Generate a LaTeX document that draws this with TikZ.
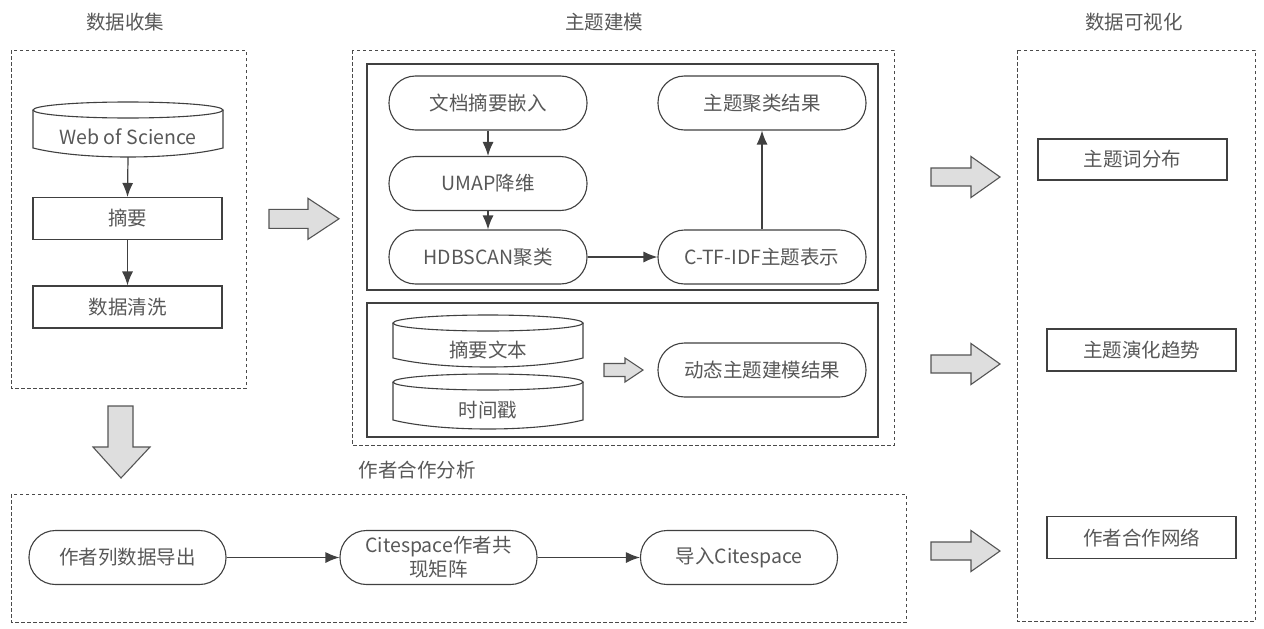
\documentclass[tikz,border=0pt]{standalone}
\usepackage{fontspec}
\setmainfont{Noto Sans CJK SC}
\usetikzlibrary{arrows.meta,calc}
\definecolor{ln}{HTML}{404040}
\definecolor{txt}{HTML}{585858}
\definecolor{dsh}{HTML}{4A4A4A}
\definecolor{blkd}{HTML}{555555}
\definecolor{blkf}{HTML}{DEDEDE}
\newcommand\dbcyl[5]{%
  \node[inner sep=0, minimum width={2*#5}, minimum height={#4-#3}] (#1) at (#2,{(#3+#4)/2}) {};
  \draw[ln, line width=1.1pt, fill=white] ({#2-#5},{#3+8}) -- ({#2-#5},{#4-9})
    .. controls ({#2-#5/2},{#4+3}) and ({#2+#5/2},{#4+3}) .. ({#2+#5},{#4-9}) -- ({#2+#5},{#3+8});
  \draw[ln, line width=1.1pt, fill=white] (#2,{#3+8}) ellipse [x radius=#5, y radius=8];
}
\newcommand\rblk[6]{% tail x, center y, shaft len, head len, shaft half, head half
  \draw[blk] (#1,{#2-#5}) -- ({#1+#3},{#2-#5}) -- ({#1+#3},{#2-#6}) -- ({#1+#3+#4},#2)
    -- ({#1+#3},{#2+#6}) -- ({#1+#3},{#2+#5}) -- (#1,{#2+#5}) -- cycle;
}
\begin{document}
\begin{tikzpicture}[x=1pt,y=-1pt,
  font=\fontsize{19.5pt}{24pt}\selectfont,
  lbl/.style={text=txt, inner sep=0},
  stad/.style={draw=ln, line width=1.1pt, rounded corners=26.5pt, minimum width=198pt,
    minimum height=54pt, text=txt, align=center, inner sep=2pt},
  rbox/.style={draw=ln, line width=1.1pt, minimum width=189pt, minimum height=42pt,
    text=txt, inner sep=0},
  dbox/.style={draw=dsh, line width=1pt, dash pattern=on 3.5pt off 2.5pt},
  sbox/.style={draw=ln, line width=1.4pt},
  conn/.style={draw=ln, line width=1.2pt, -{Latex[length=14pt,width=11pt]}},
  blk/.style={draw=blkd, fill=blkf, line width=1.1pt, line join=miter}]
\useasboundingbox (0,0) rectangle (1264,629);
\fill[white] (0,0) rectangle (1264,629);

% titles
\node[lbl] (t1) at (125,22) {数据收集};
\node[lbl] (t2) at (604,22) {主题建模};
\node[lbl] (t3) at (1134,22) {数据可视化};
\node[lbl] (t4) at (417,470) {作者合作分析};

% dashed frames
\draw[dbox] (11,50) rectangle (246,388);
\draw[dbox] (352,50) rectangle (894,445);
\draw[dbox] (11,494) rectangle (906,622);
\draw[dbox] (1017,50) rectangle (1255,621);

% solid inner frames
\draw[sbox] (367,64) rectangle (878,290);
\draw[sbox] (367,303) rectangle (878,437);

% data collection
\dbcyl{wos}{128}{102}{157}{95}
\node[lbl] (wost) at (128,137) {Web of Science};
\node[rbox] (zy) at (127.5,218.5) {摘要};
\node[rbox] (qx) at (127.5,307) {数据清洗};
\draw[conn] (wos.south) -- (zy.north);
\draw[conn] (zy) -- (qx);

% topic modeling
\node[stad] (emb) at (488,103) {文档摘要嵌入};
\node[stad] (umap) at (488,183.5) {UMAP降维};
\node[stad] (hdb) at (488,257) {HDBSCAN聚类};
\node[stad, minimum width=208pt] (res) at (762,103) {主题聚类结果};
\node[stad, minimum width=208pt] (ctf) at (762,257) {C-TF-IDF主题表示};
\draw[conn] (emb) -- (umap);
\draw[conn] (umap) -- (hdb);
\draw[conn] (hdb) -- (ctf);
\draw[conn] (ctf) -- (res);

\dbcyl{abs}{488}{315}{367}{95}
\node[lbl] (abst) at (488,350) {摘要文本};
\dbcyl{ts}{488}{374}{429}{95}
\node[lbl] (tst) at (488,410) {时间戳};
\node[stad, minimum width=208pt] (dyn) at (762,370) {动态主题建模结果};
\rblk{604}{370}{21}{18}{6.5}{12}

% author collaboration
\node[stad, minimum width=197pt] (a1) at (127.5,557.5) {作者列数据导出};
\node[stad, minimum width=197pt] (a2) at (438.5,557.5) {Citespace作者共\\现矩阵};
\node[stad, minimum width=197pt] (a3) at (739,557.5) {导入Citespace};
\draw[conn] (a1) -- (a2);
\draw[conn] (a2) -- (a3);

% visualization
\node[rbox, minimum height=41pt] (v1) at (1132.5,159.5) {主题词分布};
\node[rbox] (v2) at (1141.5,350) {主题演化趋势};
\node[rbox] (v3) at (1141.5,537.5) {作者合作网络};

% block arrows
\rblk{269}{218.8}{39}{31}{9.5}{20.5}
\rblk{931}{177}{40}{29}{9}{20.5}
\rblk{931}{364}{40}{29}{9}{20.5}
\rblk{931}{551}{40}{29}{9}{20.5}
\draw[blk] (108,406) -- (133,406) -- (133,447) -- (150,447) -- (121,478)
  -- (93,447) -- (108,447) -- cycle;
\end{tikzpicture}
\end{document}
